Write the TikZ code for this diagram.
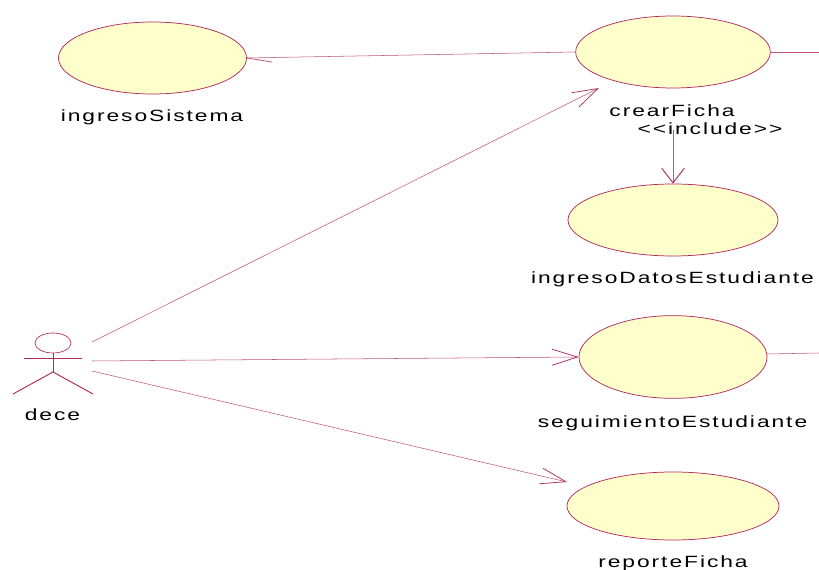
\documentclass[tikz,border=0pt]{standalone}
\usepackage{fontspec}
\setmainfont{Liberation Sans}[LetterSpace=12,FakeStretch=1.4]
\usetikzlibrary{arrows.meta,shapes.geometric}
\definecolor{rose}{HTML}{B02A5C}
\definecolor{usefill}{HTML}{FFFFCC}
\tikzset{
  usecase/.style={ellipse,draw=rose,fill=usefill,line width=0.55pt,inner sep=0pt},
  caption/.style={inner sep=0pt,font=\fontsize{12.2}{14}\selectfont,text=black,anchor=base},
  rel/.style={draw=rose!80,line width=0.4pt},
  flow/.style={rel,-{Straight Barb[length=19pt,width=12pt,line width=0.55pt,rose]}},
  incflow/.style={rel,-{Straight Barb[length=11pt,width=17pt,line width=0.7pt,rose]}},
  limb/.style={draw=rose,line width=0.7pt}
}
\begin{document}
\begin{tikzpicture}[x=0.75pt,y=-0.75pt]
\useasboundingbox (0,0) rectangle (819,570);
\fill[white] (0,0) rectangle (819,570);
\node[usecase,minimum width=141pt,minimum height=54pt] (ingreso) at (152.5,58) {};
\node[usecase,minimum width=146pt,minimum height=54pt] (crear) at (673,52) {};
\node[usecase,minimum width=157.5pt,minimum height=54pt] (datos) at (673,220) {};
\node[usecase,minimum width=141pt,minimum height=62pt] (seg) at (673,357) {};
\node[usecase,minimum width=159pt,minimum height=51pt] (rep) at (673,506) {};
% actor
\node[ellipse,draw=rose,line width=0.5pt,inner sep=0pt,minimum width=27pt,minimum height=15pt] (head) at (53,343) {};
\coordinate (hip) at (53,372);
\coordinate (armL) at (24,358);
\coordinate (armR) at (82,358);
\coordinate (footL) at (13,394);
\coordinate (footR) at (93,394);
\draw[limb] (head.south) -- (hip);
\draw[limb] (armL) -- (armR);
\draw[limb] (footL) -- (hip) -- (footR);
% labels
\node[caption] at (152,121.5) {ingresoSistema};
\node[caption] at (672,116.5) {crearFicha};
\node[caption] at (710,134.5) {<{}<include>{}>};
\node[caption] at (672.5,283.5) {ingresoDatosEstudiante};
\node[caption] at (672.5,427.5) {seguimientoEstudiante};
\node[caption] at (673,567.5) {reporteFicha};
\node[caption] at (52.5,420.5) {dece};
% connector ends
\coordinate (a1) at (92,342);
\coordinate (a2) at (92,361);
\coordinate (a3) at (92,371);
\coordinate (crearTip) at (599,88);
\coordinate (repTip) at (567,482);
\coordinate (incStart) at (673,130);
\coordinate (tickEnd) at (272,62);
\coordinate (offR1) at (819,52);
\coordinate (offR2) at (819,353);
\draw[flow] (a1) -- (crearTip);
\draw[flow] (a2) -- (seg.west);
\draw[flow] (a3) -- (repTip);
\draw[incflow] (incStart) -- (datos.north);
\draw[rel] (ingreso.east) -- (crear.west);
\draw[rel,line width=0.6pt] (ingreso.east) -- (tickEnd);
\draw[rel] (crear.east) -- (offR1);
\draw[rel] (seg.east) ++(0,-3) -- (offR2);
\end{tikzpicture}
\end{document}
